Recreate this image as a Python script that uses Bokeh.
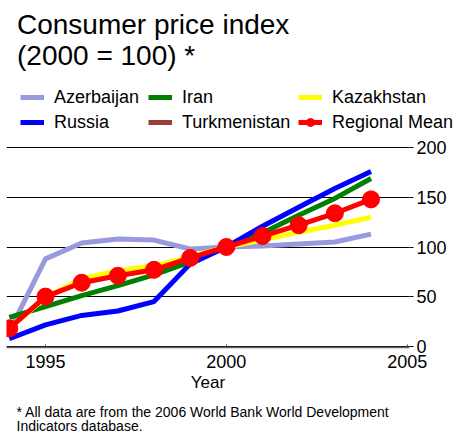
import numpy as np
from bokeh.plotting import figure
from bokeh.layouts import column
from bokeh.models import Range1d, FixedTicker, Label, Legend, LegendItem, ColumnDataSource
from bokeh.embed import file_html
from bokeh.resources import INLINE

# ---- data ----
years = [1994, 1995, 1996, 1997, 1998, 1999, 2000, 2001, 2002, 2003, 2004]
azerbaijan = [15, 88, 104, 108, 107, 98, 100, 101, 103, 105, 113]
iran = [29, 40, 51, 61, 72, 85, 100, 114, 132, 149, 169]
kazakhstan = [18, 49, 68, 76, 81, 90, 100, 107, 115, 122, 130]
russia = [7.5, 21.5, 31, 35.5, 45, 83, 100, 121, 140, 159, 176]
turkmenistan = [None, None, None, None, None, None, None, None, None, None, None]
regional_mean = [18, 50, 64, 71, 77, 89, 100, 111, 122, 134, 148]

series_names = ["Azerbaijan", "Iran", "Kazakhstan", "Russia", "Turkmenistan", "Regional Mean"]
series_colors = ["#9999DD", "#008000", "#FFFF00", "#0000FF", "#993D3D", "#FF0000"]

x_ticks = [1995, 2000, 2005]
y_ticks = [0, 50, 100, 150, 200]

title_lines = ["Consumer price index", "(2000 = 100) *"]
footnote_lines = ["* All data are from the 2006 World Bank World Development",
                  "Indicators database."]

FONT = "Liberation Sans"
W = 455
LW = 5
MSIZE = 17


def blank_fig(height):
    f = figure(width=W, height=height, title=None, x_range=Range1d(0, W),
               y_range=Range1d(0, height), frame_align=False,
               min_border=0, output_backend="svg", toolbar_location=None)
    f.axis.visible = False
    f.grid.visible = False
    f.outline_line_color = None
    f.background_fill_color = "white"
    f.border_fill_color = "white"
    return f

# ---------------- header: title + legend ----------------
H1 = 136
hdr = blank_fig(H1)
for t, base in zip(title_lines, [23.7, 55.2]):
    hdr.add_layout(Label(x=16.5, y=H1 - base, x_units="screen", y_units="screen",
                         text=t, text_font=FONT,
                         text_font_size="28px", text_color="black",
                         text_baseline="alphabetic"))

nan_src = ColumnDataSource(dict(x=[np.nan], y=[np.nan]))
leg_r = {}
for name, col in zip(series_names, series_colors):
    rs = [hdr.line("x", "y", source=nan_src, line_color=col, line_width=LW)]
    if name == "Regional Mean":
        rs.append(hdr.scatter("x", "y", source=nan_src, marker="circle", size=MSIZE,
                              fill_color=col, line_color=col))
    leg_r[name] = rs


def make_legend(names, x):
    lg = Legend(items=[LegendItem(label=n, renderers=leg_r[n]) for n in names],
                location=(x, H1 - 132.7), orientation="vertical",
                padding=0, margin=0, spacing=4, glyph_width=24, glyph_height=20,
                label_height=20, label_standoff=10, border_line_color=None,
                background_fill_alpha=0, label_text_font=FONT,
                label_text_font_size="18px", label_text_color="black")
    hdr.add_layout(lg, "center")

make_legend(["Azerbaijan", "Russia"], 20)
make_legend(["Iran", "Turkmenistan"], 148)
make_legend(["Kazakhstan", "Regional Mean"], 298)

# ---------------- main plot ----------------
H2 = 266
p = figure(width=W, height=H2, title=None, frame_align=False,
           min_border_left=6, min_border_right=46,
           min_border_top=4, min_border_bottom=55,
           x_range=Range1d(1993.922, 2005.064), y_range=Range1d(-1.31, 207.36),
           y_axis_location="right",
           output_backend="svg", toolbar_location=None)
p.outline_line_color = None
p.background_fill_color = "white"
p.border_fill_color = "white"

p.xgrid.grid_line_color = None
p.ygrid.ticker = FixedTicker(ticks=y_ticks)
p.ygrid.grid_line_color = "black"
p.ygrid.grid_line_width = 1

ya = p.yaxis[0]
ya.ticker = FixedTicker(ticks=y_ticks)
ya.axis_line_color = None
ya.major_tick_out = 4
ya.major_tick_in = 0
ya.major_tick_line_color = "black"
ya.minor_tick_line_color = None
ya.major_label_standoff = 3
ya.major_label_text_font = FONT
ya.major_label_text_font_size = "18px"
ya.major_label_text_color = "black"

xa = p.xaxis[0]
xa.ticker = FixedTicker(ticks=x_ticks)
xa.axis_line_color = "#666666"
xa.axis_line_width = 1.5
xa.major_tick_in = 3
xa.major_tick_out = 0
xa.major_tick_line_color = "#444444"
xa.minor_tick_line_color = None
xa.major_label_standoff = 7
xa.major_label_text_font = FONT
xa.major_label_text_font_size = "18px"
xa.major_label_text_color = "black"
xa.axis_label = "Year"
xa.axis_label_text_font = FONT
xa.axis_label_text_font_size = "17px"
xa.axis_label_text_font_style = "normal"
xa.axis_label_text_color = "black"
xa.axis_label_standoff = 2

src = ColumnDataSource(dict(
    year=years,
    Azerbaijan=np.array(azerbaijan, dtype=float),
    Iran=np.array(iran, dtype=float),
    Kazakhstan=np.array(kazakhstan, dtype=float),
    Russia=np.array(russia, dtype=float),
    Turkmenistan=np.array(turkmenistan, dtype=float),
    Mean=np.array(regional_mean, dtype=float),
))

for name, col in zip(series_names[:5], series_colors[:5]):
    p.line("year", name, source=src, line_color=col, line_width=LW)
p.line("year", "Mean", source=src, line_color=series_colors[5], line_width=LW)
p.scatter("year", "Mean", source=src, marker="circle", size=MSIZE,
          fill_color=series_colors[5], line_color=series_colors[5])

# ---------------- footer: footnote ----------------
H3 = 434 - H1 - H2
ftr = blank_fig(H3)
for t, base in zip(footnote_lines, [411.0, 425.3]):
    ftr.add_layout(Label(x=16, y=434 - base, x_units="screen", y_units="screen",
                         text=t, text_font=FONT,
                         text_font_size="14px", text_color="black",
                         text_baseline="alphabetic"))

layout = column(hdr, p, ftr, spacing=0)
open("out.html", "w").write(file_html(layout, INLINE))
